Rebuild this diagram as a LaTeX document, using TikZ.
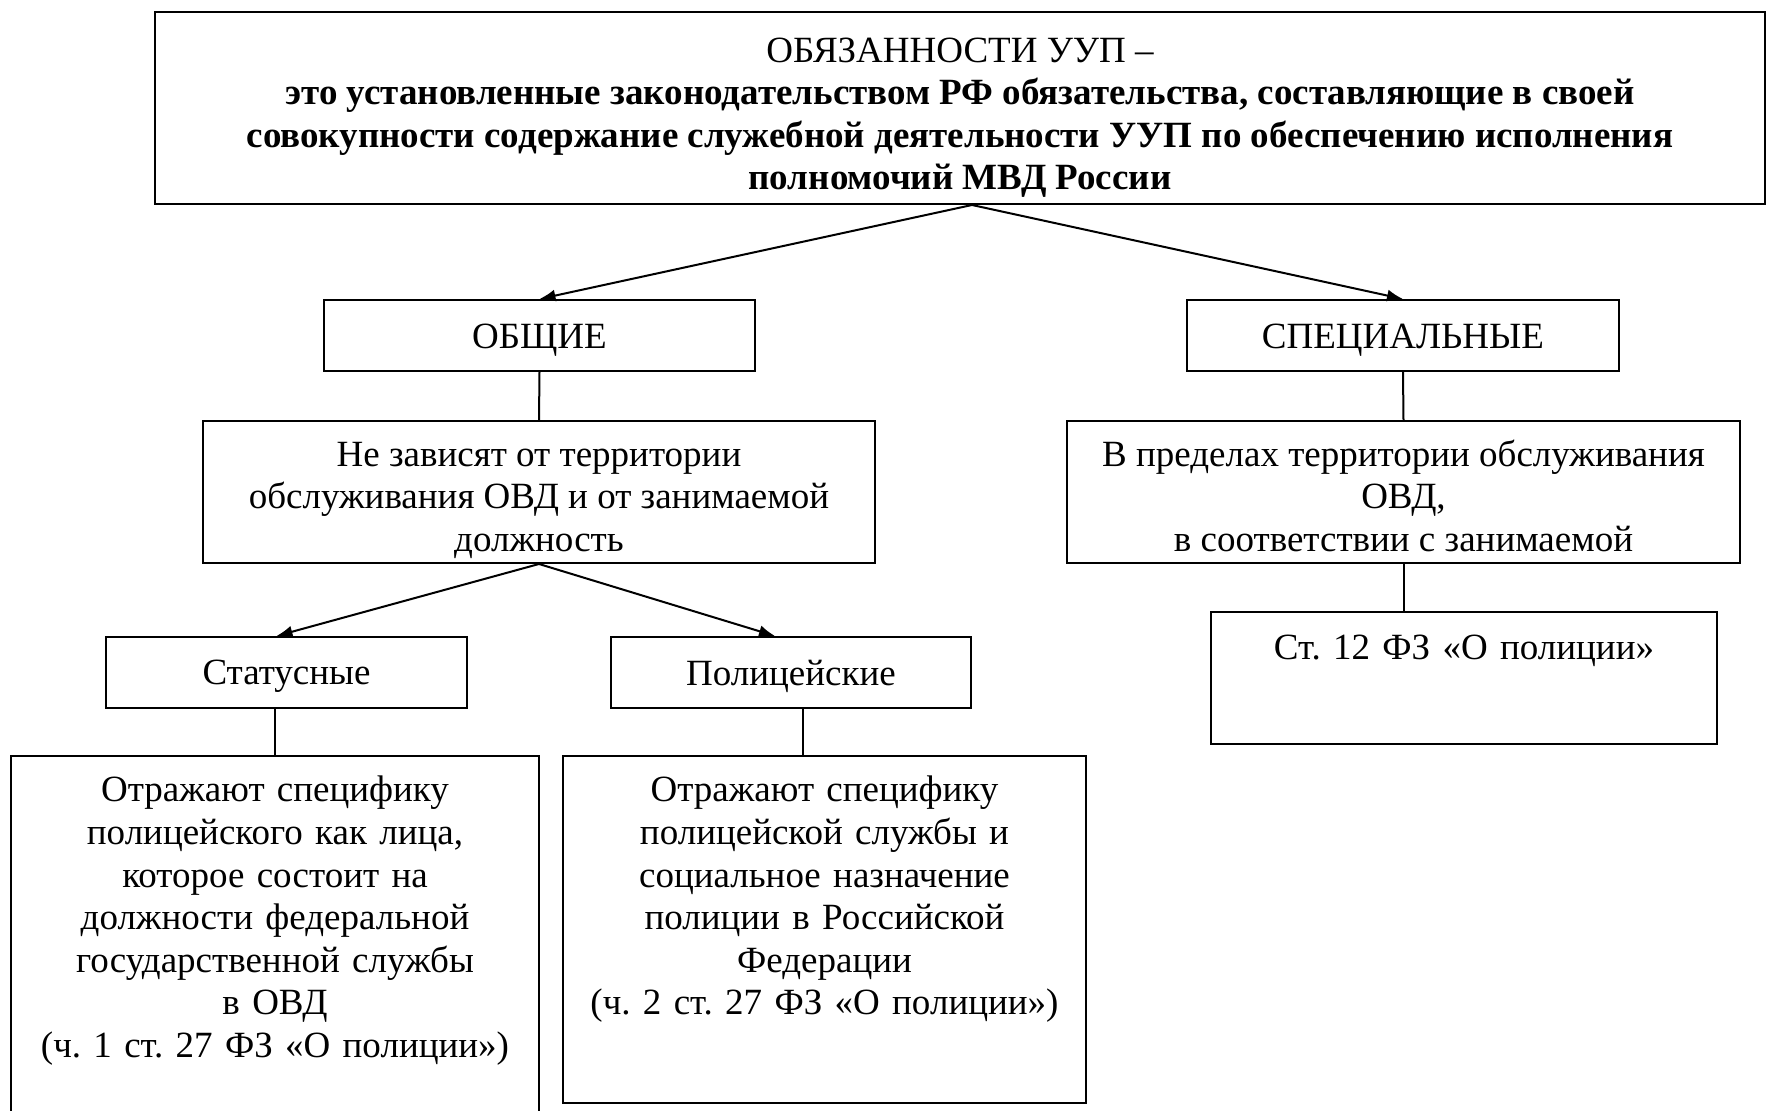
\documentclass[tikz,border=0pt]{standalone}
\usepackage{fontspec}
\setmainfont{Liberation Serif}
\usetikzlibrary{arrows.meta}
\frenchspacing

% strut that pushes the first line down
\newcommand{\lowr}[1]{\rule{0pt}{#1}}

\tikzset{
	box/.style = {draw, line width=1pt, inner sep=0pt, align=center},
	link/.style = {line width=1pt},
	arr/.style = {line width=1pt, -{Latex[length=8pt,width=6pt]}},
	note/.style = {anchor=base, inner sep=0pt, align=center, text width=255pt}
}

\begin{document}
\begin{tikzpicture} [x=0.5pt, y=-0.5pt, font=\fontsize{18.5}{21.3}\selectfont]
\useasboundingbox (0,0) rectangle (1774,1111);
\clip (0,0) rectangle (1774,1111);

% head:
\node [box, minimum width=805pt, minimum height=96pt] (duty) at (960,108)
	{\lowr{22pt}ОБЯЗАННОСТИ УУП –\\
	\textbf{это установленные законодательством РФ обязательства, составляющие в своей}\\
	\textbf{совокупности содержание служебной деятельности УУП по обеспечению исполнения}\\
	\textbf{полномочий МВД России}};

% two kinds:
\node [box, minimum width=215.5pt, minimum height=35.5pt] (general) at (539.5,335.5) {\lowr{17pt}ОБЩИЕ};
\node [box, minimum width=216pt, minimum height=35.5pt] (special) at (1403,335.5) {\lowr{17pt}СПЕЦИАЛЬНЫЕ};

\node [box, minimum width=336pt, minimum height=71pt] (indep) at (539,492)
	{\lowr{20.5pt}Не зависят от территории\\ обслуживания ОВД и от занимаемой\\ должность};
\node [box, minimum width=336.5pt, minimum height=71pt] (within) at (1403.5,492)
	{\lowr{17pt}В пределах территории обслуживания\\ ОВД,\\ в соответствии с занимаемой};

% law box (text at the top)
\node [box, minimum width=253pt, minimum height=66pt] (art12) at (1464,678) {};
\node [note] (art12txt) at (1464,660) {Ст. 12 ФЗ «О полиции»};

% general ones split:
\node [box, minimum width=180.5pt, minimum height=35.5pt] (status) at (286.5,672.5) {\lowr{16pt}Статусные};
\node [box, minimum width=180pt, minimum height=35.5pt] (police) at (791,672.5) {\lowr{16.5pt}Полицейские};

\node [box, minimum width=264pt, minimum height=187pt] (statdesc) at (275,943) {};
\node [note] (statdesctxt) at (275,802)
	{Отражают специфику\\ полицейского как лица,\\ которое состоит на\\ должности федеральной\\
	государственной службы\\ в ОВД\\ (ч. 1 ст. 27 ФЗ «О полиции»)};

\node [box, minimum width=261.5pt, minimum height=173.5pt] (poldesc) at (824.5,929.5) {};
\node [note] (poldesctxt) at (824.5,802)
	{Отражают специфику\\ полицейской службы и\\ социальное назначение\\ полиции в Российской\\
	Федерации\\ (ч. 2 ст. 27 ФЗ «О полиции»)};

% connectors:
\draw [arr] ([xshift=6pt]duty.south) -- (general.north);
\draw [arr] ([xshift=6pt]duty.south) -- (special.north);
\draw [link] (general.south) -- (indep.north);
\draw [link] (special.south) -- (within.north);
\draw [link] (within.south) -- (within.south |- art12.north);
\draw [arr] (indep.south) -- ([xshift=-5pt]status.north);
\draw [arr] (indep.south) -- ([xshift=-8pt]police.north);
\draw [link] (statdesc.north |- status.south) -- (statdesc.north);
\draw [link] ([xshift=6pt]police.south) -- ([xshift=6pt]police.south |- poldesc.north);
\end{tikzpicture}
\end{document}
